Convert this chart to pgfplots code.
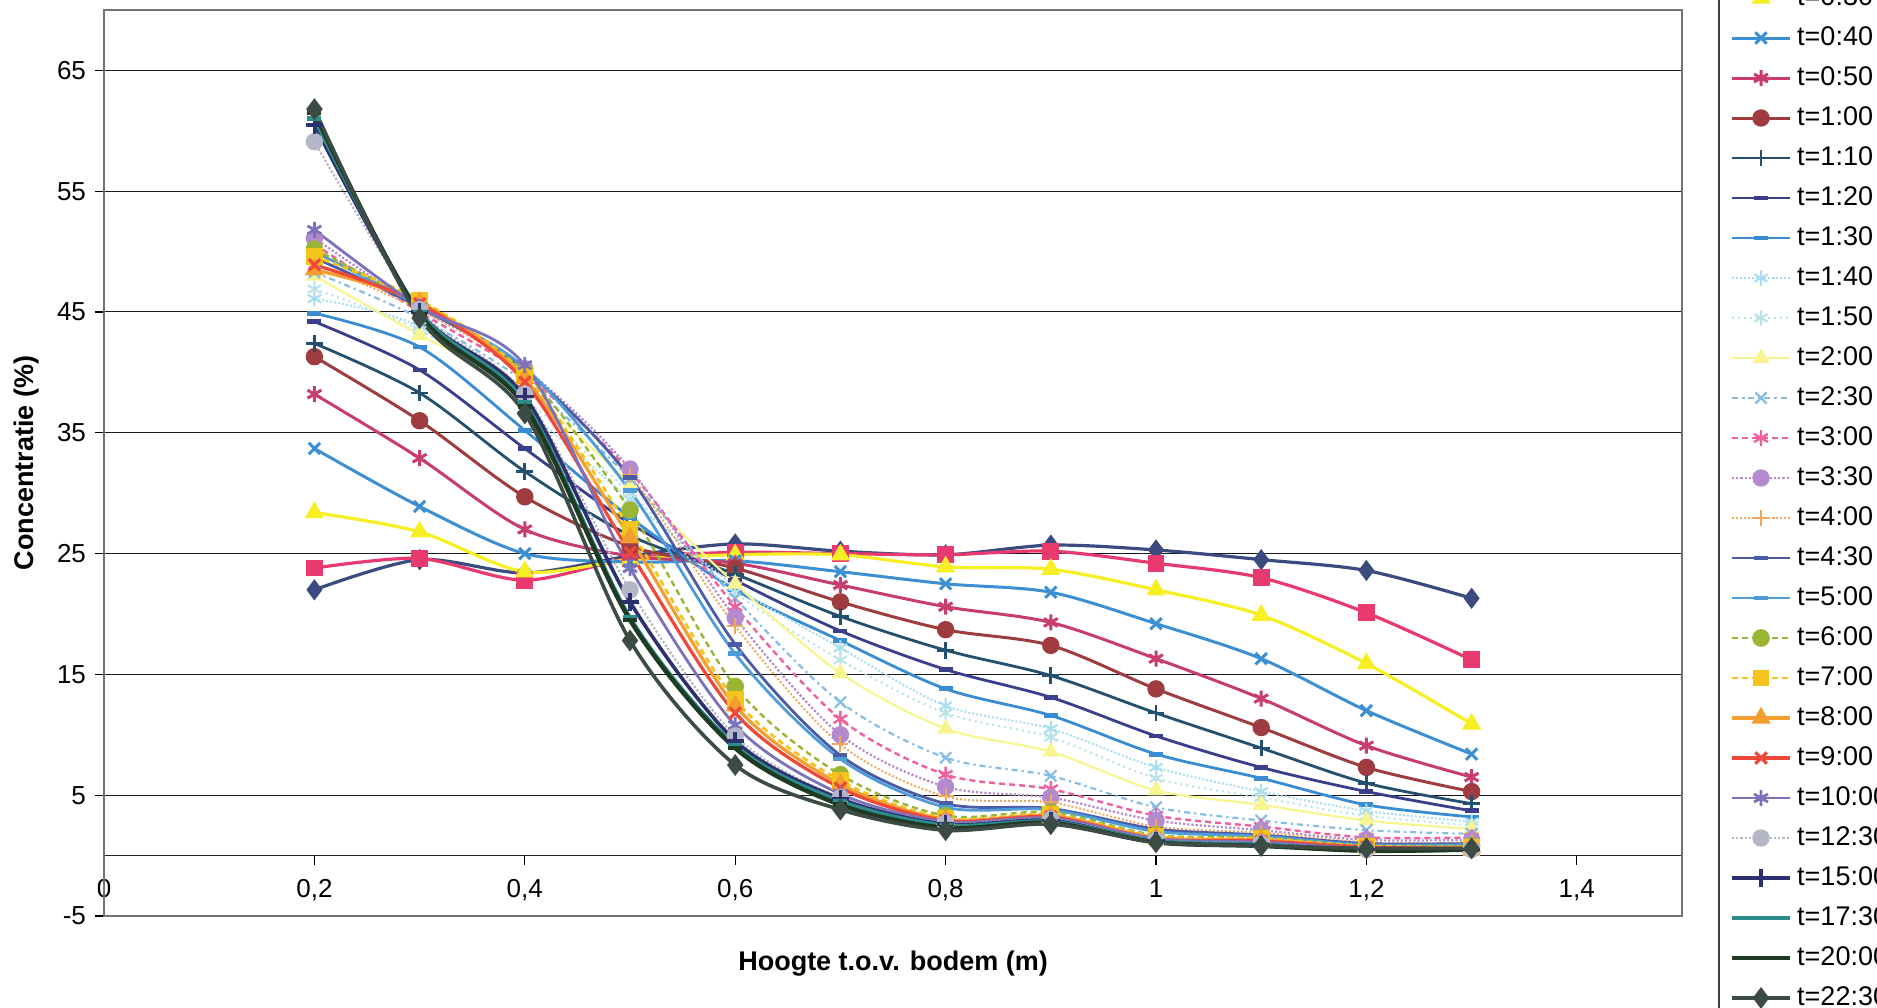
\documentclass[border=0pt]{standalone}
\usepackage{pgfplots}
\pgfplotsset{compat=1.18}
\usepackage{pgfplotstable}
\usepackage{fontspec}
\setmainfont{Liberation Sans}
\usetikzlibrary{calc}

\definecolor{c01}{HTML}{3B4A7F}
\definecolor{c02}{HTML}{E83A6E}
\definecolor{c03}{HTML}{F7EE24}
\definecolor{c04}{HTML}{3D8FD4}
\definecolor{c05}{HTML}{C83C6E}
\definecolor{c06}{HTML}{9E3C40}
\definecolor{c07}{HTML}{23506E}
\definecolor{c08}{HTML}{3A3F8C}
\definecolor{c09}{HTML}{3A8CD2}
\definecolor{c10}{HTML}{A8DDF0}
\definecolor{c11}{HTML}{B8E2E8}
\definecolor{c12}{HTML}{F8F590}
\definecolor{c13}{HTML}{86BDE6}
\definecolor{c14}{HTML}{F0609E}
\definecolor{c15}{HTML}{B48ACF}
\definecolor{c16}{HTML}{F0A860}
\definecolor{c17}{HTML}{4C5BA6}
\definecolor{c18}{HTML}{4F9CD9}
\definecolor{c19}{HTML}{9AB534}
\definecolor{c20}{HTML}{F2C41C}
\definecolor{c21}{HTML}{F49E32}
\definecolor{c22}{HTML}{F04838}
\definecolor{c23}{HTML}{7C72BC}
\definecolor{c24}{HTML}{B4B6C8}
\definecolor{c25}{HTML}{2C306E}
\definecolor{c26}{HTML}{2E8C8E}
\definecolor{c27}{HTML}{1F3A22}
\definecolor{c28}{HTML}{3D4B45}

\pgfplotstableread{
x   s01  s02  s03  s04  s05  s06  s07  s08  s09  s10  s11  s12  s13  s14  s15  s16  s17  s18  s19  s20  s21  s22  s23  s24  s25  s26  s27  s28
0.2 22.0 23.8 28.4 33.7 38.2 41.3 42.4 44.2 44.9 46.1 46.9 48.0 48.3 50.6 51.1 49.0 49.5 50.0 50.2 49.6 48.5 48.9 51.8 59.1 60.5 61.0 61.5 61.8
0.3 24.5 24.6 26.8 28.9 32.9 36.0 38.3 40.2 42.1 43.8 43.5 43.1 44.5 45.0 45.3 45.2 45.4 45.5 45.6 46.0 45.8 45.7 45.4 45.2 45.0 45.0 44.8 44.5
0.4 23.4 22.8 23.5 25.0 27.0 29.7 31.8 33.7 35.2 37.0 37.8 38.5 39.2 39.8 40.3 40.0 40.2 40.4 40.0 39.8 39.5 39.2 40.6 38.2 38.0 37.5 37.2 36.6
0.5 24.8 24.6 24.5 24.3 24.8 25.6 26.5 27.5 28.0 29.5 30.0 30.8 31.2 31.8 32.0 31.5 31.3 30.2 28.6 27.0 26.3 25.1 23.8 22.0 21.0 19.7 19.5 17.8
0.6 25.8 25.1 24.9 24.4 24.2 23.8 23.3 22.8 22.0 22.3 21.8 22.5 21.3 20.6 19.7 19.0 17.5 16.7 14.0 12.9 12.4 11.8 10.8 9.9  9.5  9.1  8.9  7.5
0.7 25.2 25.0 24.9 23.5 22.4 21.0 19.8 18.6 17.8 17.2 16.2 15.1 12.7 11.3 10.0 9.2  8.3  8.0  6.7  6.2  5.9  5.6  5.1  4.8  4.7  4.5  4.2  3.8
0.8 24.9 24.9 23.9 22.5 20.6 18.7 17.0 15.4 13.8 12.4 11.8 10.5 8.1  6.7  5.7  4.9  4.3  4.0  3.3  3.1  3.0  2.9  2.8  2.7  2.6  2.5  2.3  2.1
0.9 25.7 25.2 23.7 21.8 19.3 17.4 14.9 13.1 11.6 10.5 9.8  8.6  6.6  5.5  4.8  4.4  3.9  3.8  3.6  3.4  3.3  3.2  3.1  3.0  2.9  2.8  2.7  2.6
1.0 25.3 24.2 22.0 19.2 16.3 13.8 11.8 9.9  8.4  7.3  6.4  5.4  4.0  3.3  2.9  2.4  2.2  2.0  1.7  1.6  1.5  1.4  1.4  1.3  1.2  1.2  1.1  1.1
1.1 24.5 23.0 19.9 16.3 13.0 10.6 8.9  7.3  6.4  5.3  4.8  4.2  2.9  2.4  2.1  1.9  1.7  1.6  1.5  1.4  1.3  1.2  1.1  1.0  0.9  0.9  0.8  0.8
1.2 23.6 20.1 15.9 12.0 9.1  7.3  6.0  5.3  4.2  3.7  3.3  2.9  2.1  1.5  1.3  1.1  1.0  0.9  0.8  0.8  0.7  0.7  0.6  0.5  0.5  0.4  0.4  0.6
1.3 21.3 16.2 10.9 8.4  6.5  5.3  4.3  3.7  3.2  2.8  2.5  2.2  1.8  1.5  1.3  1.1  1.0  0.9  0.8  0.7  0.7  0.6  0.6  0.5  0.5  0.5  0.5  0.6
}\data

\pgfplotsset{
  ser/.style n args={4}{color=#1, smooth, tension=0.5, mark=#2, line width=#3, mark size=#4,
    mark options={solid, fill=#1}},
  bar/.style={mark options={solid, line width=2.4pt}},
}

\begin{document}
\begin{tikzpicture}
\begin{axis}[
  scale only axis, width=789pt, height=453pt,
  xmin=0, xmax=1.5, ymin=-5, ymax=70,
  axis x line*=middle, axis y line*=left,
  hide obscured x ticks=false,
  clip=false,
  xtick={0,0.2,0.4,0.6,0.8,1,1.2,1.4},
  ytick={-5,5,15,25,35,45,55,65},
  ymajorgrids, grid style={black!90, line width=0.5pt},
  tick align=outside, major tick length=4.5pt,
  tick style={black, line width=0.6pt},
  axis line style={black!85, line width=0.8pt},
  tick label style={font=\fontsize{13}{15}\selectfont},
  xticklabel style={yshift=-4pt},
  yticklabel style={xshift=-1pt},
  /pgf/number format/assume math mode=true,
  /pgf/number format/use comma, /pgf/number format/fixed,
  xlabel={Hoogte t.o.v. bodem (m)},
  ylabel={Concentratie (\%)},
  xlabel style={at={(axis description cs:0.5,-0.0527)}, anchor=center, font=\fontsize{13.5}{16}\selectfont\bfseries},
  ylabel style={at={(axis description cs:-0.0494,0.5)}, anchor=center, font=\fontsize{13.5}{16}\selectfont\bfseries},
  legend image code/.code={\draw[mark repeat=2,mark phase=2,#1] plot coordinates {(0pt,0pt) (14.5pt,0pt) (29pt,0pt)};},
  legend style={at={(rel axis cs:1,1)}, anchor=north west, xshift=18pt, yshift=58.4pt,
    draw=black!75, line width=0.8pt, fill=white, font=\fontsize{13.5}{15}\selectfont,
    row sep=8pt, inner xsep=5.5pt, inner ysep=6pt,
    nodes={inner sep=0pt, text height=9.5pt, text depth=2.5pt},
    /tikz/every even column/.append style={column sep=3pt},
    /tikz/every odd column/.append style={column sep=0pt}},
  legend cell align=left,
]
\addplot[ser={c01}{diamond*}{1.6pt}{4pt}] table[x=x,y=s01]{\data}; \addlegendentry{\hspace{2.5pt}t=0:10}
\addplot[ser={c02}{square*}{1.6pt}{3.4pt}] table[x=x,y=s02]{\data}; \addlegendentry{\hspace{2.5pt}t=0:20}
\addplot[ser={c03}{triangle*}{1.6pt}{4pt}] table[x=x,y=s03]{\data}; \addlegendentry{\hspace{2.5pt}t=0:30}
\addplot[ser={c04}{x}{1.5pt}{4pt}] table[x=x,y=s04]{\data}; \addlegendentry{\hspace{2.5pt}t=0:40}
\addplot[ser={c05}{asterisk}{1.5pt}{4pt}] table[x=x,y=s05]{\data}; \addlegendentry{\hspace{2.5pt}t=0:50}
\addplot[ser={c06}{*}{1.5pt}{3.6pt}] table[x=x,y=s06]{\data}; \addlegendentry{\hspace{2.5pt}t=1:00}
\addplot[ser={c07}{+}{1.4pt}{4.2pt}] table[x=x,y=s07]{\data}; \addlegendentry{\hspace{2.5pt}t=1:10}
\addplot[ser={c08}{-}{1.4pt}{3.5pt}, bar] table[x=x,y=s08]{\data}; \addlegendentry{\hspace{2.5pt}t=1:20}
\addplot[ser={c09}{-}{1.4pt}{3.5pt}, bar] table[x=x,y=s09]{\data}; \addlegendentry{\hspace{2.5pt}t=1:30}
\addplot[ser={c10}{asterisk}{1.0pt}{3.8pt}, densely dotted] table[x=x,y=s10]{\data}; \addlegendentry{\hspace{2.5pt}t=1:40}
\addplot[ser={c11}{asterisk}{1.0pt}{3.8pt}, dotted] table[x=x,y=s11]{\data}; \addlegendentry{\hspace{2.5pt}t=1:50}
\addplot[ser={c12}{triangle*}{1.1pt}{3.8pt}] table[x=x,y=s12]{\data}; \addlegendentry{\hspace{2.5pt}t=2:00}
\addplot[ser={c13}{x}{1.1pt}{4pt}, dash dot] table[x=x,y=s13]{\data}; \addlegendentry{\hspace{2.5pt}t=2:30}
\addplot[ser={c14}{asterisk}{1.2pt}{4pt}, densely dashed] table[x=x,y=s14]{\data}; \addlegendentry{\hspace{2.5pt}t=3:00}
\addplot[ser={c15}{*}{1.1pt}{3.8pt}, densely dotted] table[x=x,y=s15]{\data}; \addlegendentry{\hspace{2.5pt}t=3:30}
\addplot[ser={c16}{+}{1.0pt}{4pt}, densely dotted] table[x=x,y=s16]{\data}; \addlegendentry{\hspace{2.5pt}t=4:00}
\addplot[ser={c17}{-}{1.4pt}{3.5pt}, bar] table[x=x,y=s17]{\data}; \addlegendentry{\hspace{2.5pt}t=4:30}
\addplot[ser={c18}{-}{1.4pt}{3.5pt}, bar] table[x=x,y=s18]{\data}; \addlegendentry{\hspace{2.5pt}t=5:00}
\addplot[ser={c19}{*}{1.2pt}{3.8pt}, densely dashed] table[x=x,y=s19]{\data}; \addlegendentry{\hspace{2.5pt}t=6:00}
\addplot[ser={c20}{square*}{1.4pt}{3.5pt}, densely dashed] table[x=x,y=s20]{\data}; \addlegendentry{\hspace{2.5pt}t=7:00}
\addplot[ser={c21}{triangle*}{1.6pt}{4pt}] table[x=x,y=s21]{\data}; \addlegendentry{\hspace{2.5pt}t=8:00}
\addplot[ser={c22}{x}{1.6pt}{4pt}] table[x=x,y=s22]{\data}; \addlegendentry{\hspace{2.5pt}t=9:00}
\addplot[ser={c23}{asterisk}{1.4pt}{4pt}] table[x=x,y=s23]{\data}; \addlegendentry{\hspace{2.5pt}t=10:00}
\addplot[ser={c24}{*}{1.1pt}{3.8pt}, densely dotted] table[x=x,y=s24]{\data}; \addlegendentry{\hspace{2.5pt}t=12:30}
\addplot[ser={c25}{+}{1.8pt}{4.4pt}] table[x=x,y=s25]{\data}; \addlegendentry{\hspace{2.5pt}t=15:00}
\addplot[ser={c26}{-}{2.0pt}{3.5pt}, bar] table[x=x,y=s26]{\data}; \addlegendentry{\hspace{2.5pt}t=17:30}
\addplot[ser={c27}{-}{2.2pt}{3.5pt}, bar] table[x=x,y=s27]{\data}; \addlegendentry{\hspace{2.5pt}t=20:00}
\addplot[ser={c28}{diamond*}{1.8pt}{4pt}] table[x=x,y=s28]{\data}; \addlegendentry{\hspace{2.5pt}t=22:30}
\draw[black!55, line width=0.6pt] (rel axis cs:0,0) rectangle (rel axis cs:1,1);
\coordinate (ll) at (rel axis cs:0,0);
\coordinate (ur) at (rel axis cs:1,1);
\end{axis}
\pgfresetboundingbox
\useasboundingbox ($(ll)+(-52pt,-46pt)$) rectangle ($(ur)+(97.5pt,5pt)$);
\end{tikzpicture}
\end{document}
